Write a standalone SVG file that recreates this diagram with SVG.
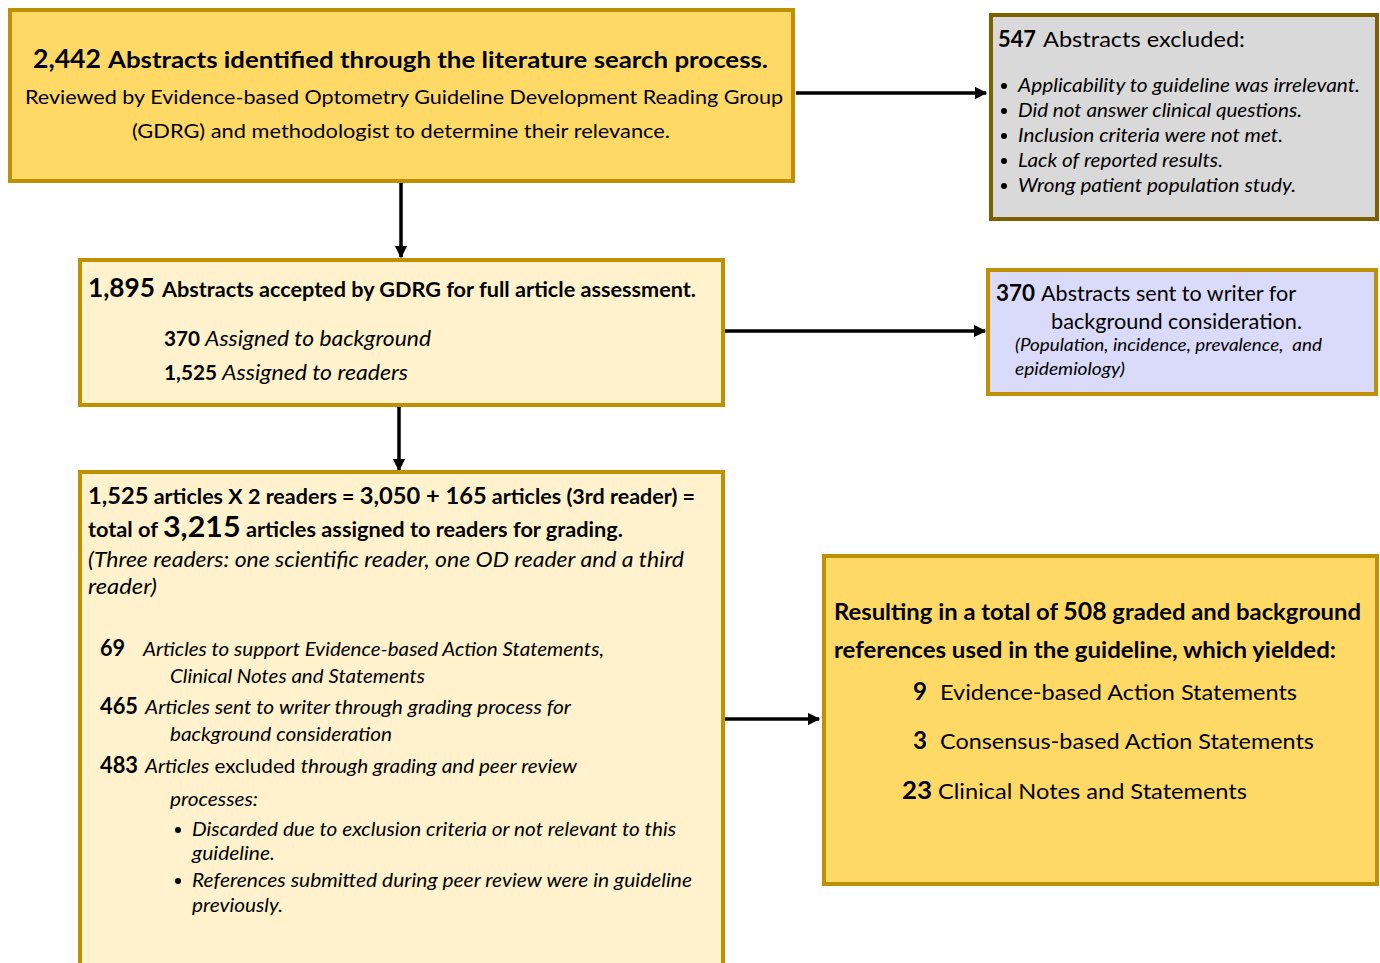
<svg xmlns="http://www.w3.org/2000/svg" width="1380" height="963" viewBox="0 0 1380 963">
<defs>
<marker id="ah" viewBox="0 0 10 10" refX="9" refY="5" markerWidth="3.7" markerHeight="3.5" orient="auto" markerUnits="strokeWidth">
<path d="M0,0 L10,5 L0,10 z" fill="#000"/>
</marker>
<style>
text{font-family:Lato,"Liberation Sans",sans-serif;fill:#000;}
.b{font-weight:bold;}
.i{font-style:italic;}
.gold{fill:#FFD966;stroke:#BF9000;stroke-width:4;}
.light{fill:#FFF2CC;stroke:#BF9000;stroke-width:4;}
.gray{fill:#D9D9D9;stroke:#7F6000;stroke-width:4;}
.lav{fill:#DADAFB;stroke:#BF9000;stroke-width:4;}
.c{stroke:#000;stroke-width:3.5;fill:none;marker-end:url(#ah);}
</style>
</defs>
<rect width="1380" height="963" fill="#fff"/>

<g id="connectors">
<path class="c" d="M401,183 L401,257"/>
<path class="c" d="M796,93 L986,93"/>
<path class="c" d="M725,331 L985,331"/>
<path class="c" d="M399,406 L399,470"/>
<path class="c" d="M725,719 L819,719" stroke-width="4"/>
</g>

<g id="n1">
<rect class="gold" x="10" y="10" width="783" height="171"/>
<text class="b" x="33" y="68" font-size="26" textLength="68" lengthAdjust="spacingAndGlyphs">2,442</text>
<text class="b" x="108" y="68" font-size="23" textLength="660" lengthAdjust="spacingAndGlyphs">Abstracts identified through the literature search process.</text>
<text x="25" y="104" font-size="20" textLength="758" lengthAdjust="spacingAndGlyphs">Reviewed by Evidence-based Optometry Guideline Development Reading Group</text>
<text x="132" y="138" font-size="20" textLength="538" lengthAdjust="spacingAndGlyphs">(GDRG) and methodologist to determine their relevance.</text>
</g>

<g id="n2">
<rect class="gray" x="991" y="15" width="386" height="204"/>
<text class="b" x="998" y="47" font-size="22" textLength="38" lengthAdjust="spacingAndGlyphs">547</text>
<text x="1043" y="47" font-size="22" textLength="202" lengthAdjust="spacingAndGlyphs">Abstracts excluded:</text>
<circle cx="1004" cy="86" r="3"/><text class="i" x="1018" y="92" font-size="19" textLength="342" lengthAdjust="spacingAndGlyphs">Applicability to guideline was irrelevant.</text>
<circle cx="1004" cy="111" r="3"/><text class="i" x="1018" y="117" font-size="19" textLength="284" lengthAdjust="spacingAndGlyphs">Did not answer clinical questions.</text>
<circle cx="1004" cy="136" r="3"/><text class="i" x="1018" y="142" font-size="19" textLength="265" lengthAdjust="spacingAndGlyphs">Inclusion criteria were not met.</text>
<circle cx="1004" cy="161" r="3"/><text class="i" x="1018" y="167" font-size="19" textLength="205" lengthAdjust="spacingAndGlyphs">Lack of reported results.</text>
<circle cx="1004" cy="186" r="3"/><text class="i" x="1018" y="192" font-size="19" textLength="278" lengthAdjust="spacingAndGlyphs">Wrong patient population study.</text>
</g>

<g id="n3">
<rect class="light" x="80" y="260" width="643" height="145"/>
<text class="b" x="88" y="297" font-size="26" textLength="67" lengthAdjust="spacingAndGlyphs">1,895</text>
<text class="b" x="162" y="297" font-size="20" textLength="534" lengthAdjust="spacingAndGlyphs">Abstracts accepted by GDRG for full article assessment.</text>
<text class="b" x="164" y="346" font-size="21" textLength="36" lengthAdjust="spacingAndGlyphs">370</text>
<text class="i" x="205" y="346" font-size="21" textLength="226" lengthAdjust="spacingAndGlyphs">Assigned to background</text>
<text class="b" x="164" y="380" font-size="21" textLength="53" lengthAdjust="spacingAndGlyphs">1,525</text>
<text class="i" x="222" y="380" font-size="21" textLength="186" lengthAdjust="spacingAndGlyphs">Assigned to readers</text>
</g>

<g id="n4">
<rect class="lav" x="988" y="270" width="388" height="124"/>
<text class="b" x="996" y="301" font-size="22" textLength="39" lengthAdjust="spacingAndGlyphs">370</text>
<text x="1041" y="301" font-size="21" textLength="255" lengthAdjust="spacingAndGlyphs">Abstracts sent to writer for</text>
<text x="1051" y="329" font-size="21" textLength="251" lengthAdjust="spacingAndGlyphs">background consideration.</text>
<text class="i" x="1015" y="351" font-size="17" textLength="307" lengthAdjust="spacingAndGlyphs" xml:space="preserve">(Population, incidence, prevalence,  and</text>
<text class="i" x="1015" y="375" font-size="17" textLength="110" lengthAdjust="spacingAndGlyphs">epidemiology)</text>
</g>

<g id="n5">
<rect class="light" x="80" y="472" width="643" height="500"/>
<text class="b" x="88" y="504" font-size="20" textLength="607" lengthAdjust="spacingAndGlyphs"><tspan font-size="22">1,525</tspan> articles X 2 readers = <tspan font-size="22">3,050 + 165</tspan> articles (3rd reader) =</text>
<text class="b" x="88" y="537" font-size="20" textLength="535" lengthAdjust="spacingAndGlyphs">total of <tspan font-size="28">3,215</tspan> articles assigned to readers for grading.</text>
<text class="i" x="88" y="567" font-size="21" textLength="596" lengthAdjust="spacingAndGlyphs">(Three readers: one scientific reader, one OD reader and a third</text>
<text class="i" x="88" y="594" font-size="21" textLength="69" lengthAdjust="spacingAndGlyphs">reader)</text>

<text class="b" x="100" y="656" font-size="22" textLength="25" lengthAdjust="spacingAndGlyphs">69</text>
<text class="i" x="143" y="656" font-size="19" textLength="461" lengthAdjust="spacingAndGlyphs">Articles to support Evidence-based Action Statements,</text>
<text class="i" x="170" y="683" font-size="19" textLength="255" lengthAdjust="spacingAndGlyphs">Clinical Notes and Statements</text>
<text class="b" x="100" y="714" font-size="22" textLength="38" lengthAdjust="spacingAndGlyphs">465</text>
<text class="i" x="145" y="714" font-size="19" textLength="426" lengthAdjust="spacingAndGlyphs">Articles sent to writer through grading process for</text>
<text class="i" x="170" y="741" font-size="19" textLength="222" lengthAdjust="spacingAndGlyphs">background consideration</text>
<text class="b" x="100" y="773" font-size="22" textLength="38" lengthAdjust="spacingAndGlyphs">483</text>
<text x="145" y="773" font-size="19" textLength="432" lengthAdjust="spacingAndGlyphs"><tspan class="i">Articles</tspan> excluded <tspan class="i">through grading and peer review</tspan></text>
<text class="i" x="170" y="806" font-size="19" textLength="88" lengthAdjust="spacingAndGlyphs">processes:</text>
<circle cx="178" cy="830" r="3"/>
<text class="i" x="192" y="836" font-size="19" textLength="484" lengthAdjust="spacingAndGlyphs">Discarded due to exclusion criteria or not relevant to this</text>
<text class="i" x="192" y="860" font-size="19" textLength="83" lengthAdjust="spacingAndGlyphs">guideline.</text>
<circle cx="178" cy="881" r="3"/>
<text class="i" x="192" y="887" font-size="19" textLength="500" lengthAdjust="spacingAndGlyphs">References submitted during peer review were in guideline</text>
<text class="i" x="192" y="912" font-size="19" textLength="91" lengthAdjust="spacingAndGlyphs">previously.</text>
</g>

<g id="n6">
<rect class="gold" x="824" y="556" width="553" height="328" stroke-width="5"/>
<text class="b" x="834" y="620" font-size="23" textLength="527" lengthAdjust="spacingAndGlyphs">Resulting in a total of <tspan font-size="24">508</tspan> graded and background</text>
<text class="b" x="834" y="658" font-size="23" textLength="502" lengthAdjust="spacingAndGlyphs">references used in the guideline, which yielded:</text>
<text class="b" x="913" y="700" font-size="25" textLength="14" lengthAdjust="spacingAndGlyphs">9</text>
<text x="940" y="700" font-size="22" textLength="357" lengthAdjust="spacingAndGlyphs">Evidence-based Action Statements</text>
<text class="b" x="913" y="749" font-size="25" textLength="14" lengthAdjust="spacingAndGlyphs">3</text>
<text x="940" y="749" font-size="22" textLength="374" lengthAdjust="spacingAndGlyphs">Consensus-based Action Statements</text>
<text class="b" x="902" y="799" font-size="25" textLength="30" lengthAdjust="spacingAndGlyphs">23</text>
<text x="938" y="799" font-size="22" textLength="309" lengthAdjust="spacingAndGlyphs">Clinical Notes and Statements</text>
</g>
</svg>
